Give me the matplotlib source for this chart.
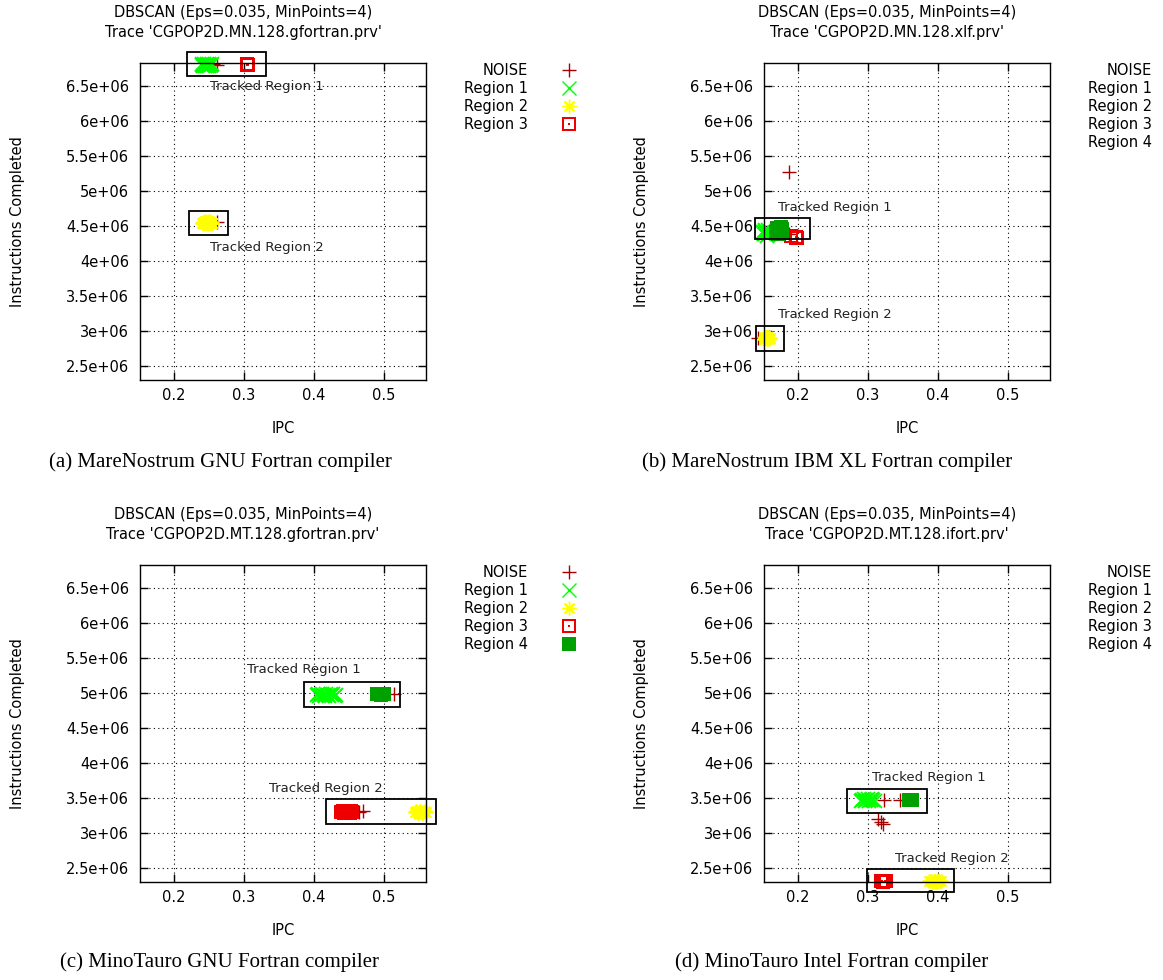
import numpy as np
import matplotlib
matplotlib.use("Agg")
import matplotlib.pyplot as plt
from matplotlib.path import Path
from matplotlib.patches import Rectangle

# ---------------- datos ----------------
titulo1 = "DBSCAN (Eps=0.035, MinPoints=4)"
trazas = ["CGPOP2D.MN.128.gfortran.prv", "CGPOP2D.MN.128.xlf.prv",
          "CGPOP2D.MT.128.gfortran.prv", "CGPOP2D.MT.128.ifort.prv"]
pies = ["(a) MareNostrum GNU Fortran compiler",
        "(b) MareNostrum IBM XL Fortran compiler",
        "(c) MinoTauro GNU Fortran compiler",
        "(d) MinoTauro Intel Fortran compiler"]

xticks = [0.2, 0.3, 0.4, 0.5]
yticks = [2.5e6, 3e6, 3.5e6, 4e6, 4.5e6, 5e6, 5.5e6, 6e6, 6.5e6]
ytick_labels = ["2.5e+06", "3e+06", "3.5e+06", "4e+06", "4.5e+06",
                "5e+06", "5.5e+06", "6e+06", "6.5e+06"]

# (a) MN gfortran
noise_a_ipc = [0.256, 0.262, 0.262]
noise_a_ins = [6.82e6, 6.80e6, 4.56e6]
r1_a_ipc = [0.240, 0.241, 0.242, 0.243, 0.244, 0.245, 0.246, 0.247,
            0.248, 0.249, 0.250, 0.251, 0.252, 0.253, 0.254]
r1_a_ins = [6.80e6, 6.81e6, 6.79e6, 6.80e6, 6.81e6, 6.79e6, 6.80e6, 6.81e6,
            6.79e6, 6.80e6, 6.81e6, 6.79e6, 6.80e6, 6.80e6, 6.81e6]
r2_a_ipc = [0.241, 0.242, 0.243, 0.244, 0.245, 0.246, 0.247, 0.248,
            0.249, 0.250, 0.251, 0.252, 0.253, 0.254, 0.255]
r2_a_ins = [4.55e6, 4.56e6, 4.54e6, 4.55e6, 4.57e6, 4.54e6, 4.55e6, 4.56e6,
            4.53e6, 4.55e6, 4.57e6, 4.54e6, 4.56e6, 4.55e6, 4.54e6]
r3_a_ipc = [0.304, 0.305, 0.306]
r3_a_ins = [6.80e6, 6.81e6, 6.80e6]

# (b) MN xlf
noise_b_ipc = [0.187, 0.185, 0.188, 0.143]
noise_b_ins = [5.27e6, 4.42e6, 4.38e6, 2.90e6]
r1_b_ipc = [0.150, 0.151, 0.152, 0.153, 0.154, 0.155, 0.156, 0.157,
            0.158, 0.159, 0.160, 0.153, 0.157]
r1_b_ins = [4.40e6, 4.42e6, 4.38e6, 4.43e6, 4.39e6, 4.41e6, 4.36e6, 4.44e6,
            4.40e6, 4.38e6, 4.42e6, 4.45e6, 4.37e6]
r2_b_ipc = [0.152, 0.153, 0.154, 0.155, 0.156, 0.157, 0.158, 0.159, 0.160]
r2_b_ins = [2.89e6, 2.91e6, 2.90e6, 2.92e6, 2.88e6, 2.90e6, 2.91e6, 2.89e6, 2.90e6]
r3_b_ipc = [0.190, 0.197, 0.198, 0.199]
r3_b_ins = [4.36e6, 4.33e6, 4.34e6, 4.33e6]
r4_b_ipc = [0.169, 0.171, 0.172, 0.174, 0.175, 0.177, 0.178, 0.172, 0.176]
r4_b_ins = [4.42e6, 4.47e6, 4.44e6, 4.40e6, 4.44e6, 4.46e6, 4.40e6, 4.38e6, 4.49e6]

# (c) MT gfortran
noise_c_ipc = [0.515, 0.465, 0.470]
noise_c_ins = [4.99e6, 3.30e6, 3.31e6]
r1_c_ipc = [0.404, 0.406, 0.408, 0.410, 0.412, 0.414, 0.416, 0.418,
            0.420, 0.422, 0.424, 0.426, 0.428, 0.430, 0.432]
r1_c_ins = [4.97e6, 4.98e6, 4.96e6, 4.97e6, 4.98e6, 4.97e6, 4.96e6, 4.98e6,
            4.97e6, 4.96e6, 4.98e6, 4.97e6, 4.98e6, 4.96e6, 4.97e6]
r2_c_ipc = [0.544, 0.546, 0.548, 0.550, 0.552, 0.554, 0.556, 0.558, 0.560]
r2_c_ins = [3.30e6, 3.31e6, 3.29e6, 3.30e6, 3.31e6, 3.29e6, 3.30e6, 3.31e6, 3.30e6]
r3_c_ipc = [0.439, 0.441, 0.443, 0.445, 0.447, 0.449, 0.451, 0.453, 0.454]
r3_c_ins = [3.30e6, 3.31e6, 3.29e6, 3.30e6, 3.31e6, 3.30e6, 3.29e6, 3.31e6, 3.30e6]
r4_c_ipc = [0.490, 0.493, 0.496, 0.498, 0.500]
r4_c_ins = [4.98e6, 4.99e6, 4.97e6, 4.98e6, 4.98e6]

# (d) MT ifort
noise_d_ipc = [0.323, 0.346, 0.315, 0.322, 0.319]
noise_d_ins = [3.47e6, 3.47e6, 3.20e6, 3.13e6, 3.16e6]
r1_d_ipc = [0.290, 0.292, 0.294, 0.296, 0.298, 0.300, 0.302, 0.304,
            0.306, 0.308, 0.310]
r1_d_ins = [3.46e6, 3.47e6, 3.48e6, 3.46e6, 3.47e6, 3.48e6, 3.46e6, 3.47e6,
            3.48e6, 3.47e6, 3.46e6]
r2_d_ipc = [0.388, 0.390, 0.392, 0.394, 0.396, 0.398, 0.400, 0.402, 0.404]
r2_d_ins = [2.31e6, 2.32e6, 2.30e6, 2.31e6, 2.32e6, 2.30e6, 2.31e6, 2.32e6, 2.31e6]
r3_d_ipc = [0.319, 0.321, 0.322, 0.324, 0.325, 0.326]
r3_d_ins = [2.31e6, 2.32e6, 2.30e6, 2.31e6, 2.32e6, 2.31e6]
r4_d_ipc = [0.359, 0.361, 0.363]
r4_d_ins = [3.47e6, 3.47e6, 3.47e6]

# cajas "Tracked Region": (x0, y0, x1, y1) y posicion de la etiqueta
cajas_a = [(0.219, 6.643e6, 0.332, 6.986e6), (0.222, 4.371e6, 0.277, 4.714e6)]
etiq_a = [(0.333, 6.49e6), (0.333, 4.20e6)]
cajas_b = [(0.1386, 4.314e6, 0.217, 4.614e6), (0.140, 2.71e6, 0.180, 3.07e6)]
etiq_b = [(0.253, 4.77e6), (0.253, 3.23e6)]
cajas_c = [(0.386, 4.80e6, 0.523, 5.157e6), (0.417, 3.13e6, 0.574, 3.486e6)]
etiq_c = [(0.386, 5.33e6), (0.417, 3.63e6)]
cajas_d = [(0.271, 3.29e6, 0.384, 3.63e6), (0.299, 2.16e6, 0.423, 2.49e6)]
etiq_d = [(0.387, 3.80e6), (0.420, 2.64e6)]

# ---------------- estilos ----------------
# cuadrado abierto con punto central (tipo gnuplot)
cuad = Path.make_compound_path(
    Path([(-1, -1), (1, -1), (1, 1), (-1, 1), (-1, -1)], closed=True),
    Path([(-0.75, -0.75), (-0.75, 0.75), (0.75, 0.75), (0.75, -0.75), (-0.75, -0.75)], closed=True),
    Path([(-0.14, -0.14), (0.14, -0.14), (0.14, 0.14), (-0.14, 0.14), (-0.14, -0.14)], closed=True),
)
estilos = {
    "NOISE": dict(marker="+", color="#a80000", ms=10, mew=1.0),
    "Region 1": dict(marker="x", color="#00ff00", ms=10, mew=1.3),
    "Region 2": dict(marker=(8, 2, 0), color="#ffff00", ms=10, mew=1.3),
    "Region 3": dict(marker=cuad, color="#ee0000", ms=10, mew=0),
    "Region 4": dict(marker="s", color="#00a000", ms=10, mew=0),
}

paneles = [
    dict(pos=[140, 380], tx=0.36, cap=(220, 462),
         series=[("NOISE", noise_a_ipc, noise_a_ins), ("Region 1", r1_a_ipc, r1_a_ins),
                 ("Region 2", r2_a_ipc, r2_a_ins), ("Region 3", r3_a_ipc, r3_a_ins)],
         cajas=cajas_a, etiq=etiq_a),
    dict(pos=[764, 380], tx=0.43, cap=(827, 462),
         series=[("NOISE", noise_b_ipc, noise_b_ins), ("Region 1", r1_b_ipc, r1_b_ins),
                 ("Region 2", r2_b_ipc, r2_b_ins), ("Region 3", r3_b_ipc, r3_b_ins),
                 ("Region 4", r4_b_ipc, r4_b_ins)],
         cajas=cajas_b, etiq=etiq_b),
    dict(pos=[140, 882], tx=0.36, cap=(220, 962),
         series=[("NOISE", noise_c_ipc, noise_c_ins), ("Region 1", r1_c_ipc, r1_c_ins),
                 ("Region 2", r2_c_ipc, r2_c_ins), ("Region 3", r3_c_ipc, r3_c_ins),
                 ("Region 4", r4_c_ipc, r4_c_ins)],
         cajas=cajas_c, etiq=etiq_c),
    dict(pos=[764, 882], tx=0.43, cap=(832, 962),
         series=[("NOISE", noise_d_ipc, noise_d_ins), ("Region 1", r1_d_ipc, r1_d_ins),
                 ("Region 2", r2_d_ipc, r2_d_ins), ("Region 3", r3_d_ipc, r3_d_ins),
                 ("Region 4", r4_d_ipc, r4_d_ins)],
         cajas=cajas_d, etiq=etiq_d),
]

W, H = 1163, 980
fig = plt.figure(figsize=(W / 100, H / 100), dpi=100)

for p, traza, pie in zip(paneles, trazas, pies):
    x0, yb = p["pos"]
    ax = fig.add_axes([x0 / W, 1 - yb / H, 286 / W, 317 / H])

    for nombre, xs, ys in p["series"]:
        st = estilos[nombre]
        ax.plot(xs, ys, linestyle="none", marker=st["marker"], color=st["color"],
                markersize=st["ms"], markeredgewidth=st["mew"], label=nombre,
                clip_on=False)

    for (bx0, by0, bx1, by1) in p["cajas"]:
        ax.add_patch(Rectangle((bx0, by0), bx1 - bx0, by1 - by0, fill=False,
                               edgecolor="black", linewidth=1.3, clip_on=False, zorder=5))
    for i, (lx, ly) in enumerate(p["etiq"]):
        ax.text(lx, ly, f"Tracked Region {i + 1}", ha="center", va="center",
                fontsize=9.5, color="#222222", zorder=6)

    ax.set_xlim(0.152, 0.56)
    ax.set_ylim(2.3e6, 6.8286e6)
    ax.set_xticks(xticks)
    ax.set_xticklabels([f"{v:g}" for v in xticks])
    ax.set_yticks(yticks)
    ax.set_yticklabels(ytick_labels)
    ax.tick_params(direction="in", length=6, width=1, top=True, right=True,
                   labelsize=10.5, colors="black")
    ax.tick_params(axis="x", pad=6)
    ax.tick_params(axis="y", pad=8)
    ax.grid(True, linestyle=(0, (1, 3)), color="black", linewidth=0.8)
    ax.set_axisbelow(True)
    for s in ax.spines.values():
        s.set_linewidth(1.0)

    ax.set_xlabel("IPC", fontsize=10.5, labelpad=13)
    ax.set_ylabel("Instructions Completed", fontsize=10.5, labelpad=29)
    ax.text(p["tx"], 1.128, f"{titulo1}\nTrace '{traza}'", transform=ax.transAxes,
            ha="center", va="center", fontsize=10.5, linespacing=1.35)

    leg = ax.legend(loc="upper right", bbox_to_anchor=(1.524, 1.0), frameon=False,
                    markerfirst=False, handlelength=1.0, handletextpad=2.3,
                    labelspacing=0.2, borderpad=0, borderaxespad=0, fontsize=10.5)
    for h in leg.legend_handles:
        if h.get_markeredgewidth() > 1.0:
            h.set_markeredgewidth(1.0)

    fig.text(p["cap"][0] / W, 1 - p["cap"][1] / H, pie, ha="center", va="center",
             fontsize=15, family=["Liberation Serif", "DejaVu Serif"])

fig.savefig("out.png", dpi=100)
